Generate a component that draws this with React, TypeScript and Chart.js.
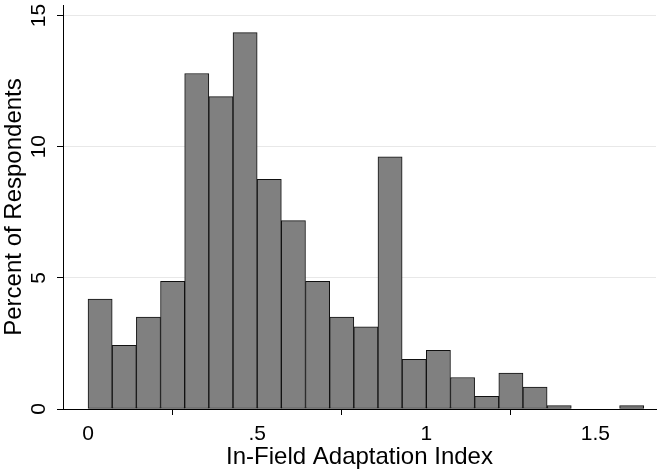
import { useEffect, useRef } from 'react'
import { Chart, ChartConfiguration, registerables } from 'chart.js'

Chart.register(...registerables)

// histogram bins (width 1/14), lower edges
const binWidth = 1 / 14
const binStarts = [
  0, 0.0714, 0.1429, 0.2143, 0.2857, 0.3571, 0.4286, 0.5, 0.5714, 0.6429, 0.7143, 0.7857,
  0.8571, 0.9286, 1, 1.0714, 1.1429, 1.2143, 1.2857, 1.3571, 1.4286, 1.5, 1.5714,
]
const percents = [
  4.19, 2.43, 3.5, 4.87, 12.79, 11.91, 14.35, 8.75, 7.18, 4.87, 3.5, 3.13,
  9.61, 1.89, 2.24, 1.2, 0.48, 1.37, 0.84, 0.13, 0, 0, 0.13,
]

const xTicks = [0, 0.5, 1, 1.5]
const xTickLabels = ['0', '.5', '1', '1.5']
const yTicks = [0, 5, 10, 15]
const yTickLabels = ['0', '5', '10', '15']

const FONT = "'Liberation Sans', Arial, Helvetica, sans-serif"

export default function App() {
  const canvasRef = useRef<HTMLCanvasElement>(null)
  const chartRef = useRef<Chart | null>(null)

  useEffect(() => {
    if (!canvasRef.current) return
    if (chartRef.current) chartRef.current.destroy()
    const ctx = canvasRef.current.getContext('2d')
    if (!ctx) return

    const points = binStarts.map((s, i) => ({ x: s + binWidth / 2, y: percents[i] }))

    const config: ChartConfiguration = {
      type: 'bar',
      data: {
        datasets: [{
          data: points as any,
          backgroundColor: '#808080',
          borderColor: '#111111',
          borderWidth: 1,
          borderSkipped: false,
          barPercentage: 1,
          categoryPercentage: 1,
        }]
      },
      options: {
        animation: false,
        responsive: true,
        maintainAspectRatio: false,
        layout: { padding: { left: 0, right: 5, top: 5, bottom: 0 } },
        plugins: {
          legend: { display: false },
          tooltip: { enabled: false }
        },
        scales: {
          x: {
            type: 'linear',
            offset: false,
            min: -0.074,
            max: 1.679,
            afterBuildTicks: (scale: any) => {
              scale.ticks = xTicks.map(v => ({ value: v }))
            },
            afterFit: (scale: any) => {
              scale.height = 65
              scale.paddingLeft = 0
              scale.paddingRight = 0
            },
            grid: {
              drawOnChartArea: false,
              drawTicks: true,
              tickLength: 6,
              tickColor: '#000000',
            },
            border: { display: true, color: '#000000', width: 1 },
            ticks: {
              color: '#000000',
              padding: 7,
              maxRotation: 0,
              font: { family: FONT, size: 21 },
              callback: (_v: any, i: number) => xTickLabels[i]
            },
            title: {
              display: true,
              text: 'In-Field Adaptation Index',
              color: '#000000',
              padding: { top: 0, bottom: 2 },
              font: { family: FONT, size: 24 }
            }
          },
          y: {
            min: 0,
            max: 15.4,
            afterBuildTicks: (scale: any) => {
              scale.ticks = yTicks.map(v => ({ value: v }))
            },
            afterFit: (scale: any) => {
              scale.width = 63
              scale.paddingTop = 0
              scale.paddingBottom = 0
            },
            grid: {
              color: (c: any) => (c.tick && c.tick.value === 0 ? 'rgba(0,0,0,0)' : '#e8e8e8'),
              tickColor: '#000000',
              tickLength: 6,
              lineWidth: 1,
            },
            border: { display: true, color: '#000000', width: 1 },
            ticks: {
              color: '#000000',
              padding: 6,
              minRotation: 90,
              maxRotation: 90,
              crossAlign: 'center',
              font: { family: FONT, size: 21 },
              callback: (_v: any, i: number) => yTickLabels[i]
            },
            title: {
              display: true,
              text: 'Percent of Respondents',
              color: '#000000',
              padding: { top: 0, bottom: 0 },
              font: { family: FONT, size: 24 }
            }
          }
        }
      }
    }

    chartRef.current = new Chart(ctx, config)

    return () => {
      if (chartRef.current) {
        chartRef.current.destroy()
        chartRef.current = null
      }
    }
  }, [])

  return (
    <div style={{ position: 'absolute', left: 0, top: 0, width: 661, height: 474, background: '#ffffff' }}>
      <canvas ref={canvasRef} />
    </div>
  )
}
